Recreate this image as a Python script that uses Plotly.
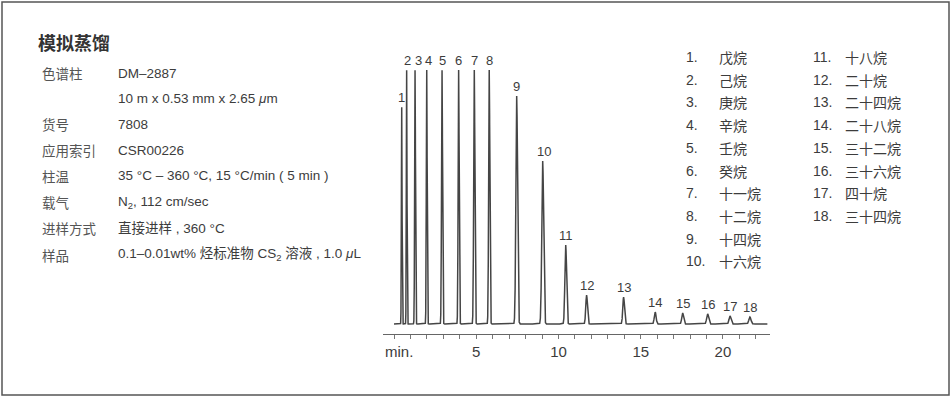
import numpy as np
import plotly.graph_objects as go

# ---------------- data ----------------
peak_ids = [str(i) for i in range(1, 19)]
peak_times = [0.47, 0.77, 1.28, 1.99, 2.92, 3.93, 4.88, 5.79, 7.46, 9.04,
              10.44, 11.71, 13.96, 15.88, 17.55, 19.07, 20.43, 21.64]
peak_heights = [217, 254, 254, 254, 254, 254, 254, 254, 228, 163,
                79, 29, 27, 12, 11, 10, 8, 7]
peak_widths = [0.02, 0.02, 0.025, 0.025, 0.03, 0.03, 0.035, 0.035, 0.05, 0.055,
               0.05, 0.05, 0.05, 0.055, 0.055, 0.06, 0.06, 0.065]
compounds = ["戊烷", "己烷", "庚烷", "辛烷", "壬烷", "癸烷", "十一烷", "十二烷", "十四烷",
             "十六烷", "十八烷", "二十烷", "二十四烷", "二十八烷", "三十二烷", "三十六烷",
             "四十烷", "三十四烷"]
run_start, run_end = 0.0, 22.7
axis_tickvals = [5, 10, 15, 20]
axis_ticktext = ["5", "10", "15", "20"]

info_labels = ["色谱柱", "", "货号", "应用索引", "柱温", "载气", "进样方式", "样品"]
info_values = ["DM–2887", "10 m x 0.53 mm x 2.65 <i>μ</i>m", "7808", "CSR00226",
               "35 °C – 360 °C, 15 °C/min ( 5 min )", "N<sub>2</sub>, 112 cm/sec",
               "直接进样 , 360 °C", "0.1–0.01wt% 烃标准物 CS<sub>2</sub> 溶液 , 1.0 <i>μ</i>L"]
title_text = "模拟蒸馏"

# ---------------- build trace ----------------
x = np.linspace(run_start, run_end, 9000)
y = np.zeros_like(x)
for t, h, w in zip(peak_times, peak_heights, peak_widths):
    y += h * np.exp(-0.5 * ((x - t) / w) ** 2)

fig = go.Figure()
fig.add_trace(go.Scatter(x=x, y=y, mode="lines",
                         line=dict(color="#454545", width=1.5),
                         hoverinfo="skip", showlegend=False))

TXT = "#3c3c3c"
LAT = "Liberation Sans, Arial, sans-serif"
MIX = "Liberation Sans, Noto Sans CJK SC, sans-serif"
CJK = "Noto Sans CJK SC, sans-serif"

ann = []
xshift = {"2": 1, "3": 3, "4": 2, "10": 1}
for pid, t, h in zip(peak_ids, peak_times, peak_heights):
    ann.append(dict(x=t, y=h, xref="x", yref="y", text=pid, showarrow=False,
                    yanchor="bottom", yshift=0, xshift=xshift.get(pid, 0),
                    font=dict(size=13, color=TXT, family=LAT)))

ann.append(dict(x=383 / 952, y=1 - 351 / 400, xref="paper", yref="paper", text="min.",
                showarrow=False, xanchor="left", yanchor="middle",
                font=dict(size=15, color=TXT, family=LAT)))

# title + info block
ann.append(dict(x=36 / 952, y=1 - 42 / 400, xref="paper", yref="paper", text="<b>" + title_text + "</b>",
                showarrow=False, xanchor="left", yanchor="middle",
                font=dict(size=18, color="#333333", family=CJK)))
row_y = [73, 98, 124, 150, 176, 202, 228, 255]
for lab, val, ry in zip(info_labels, info_values, row_y):
    if lab:
        ann.append(dict(x=40 / 952, y=1 - ry / 400, xref="paper", yref="paper", text=lab,
                        showarrow=False, xanchor="left", yanchor="middle",
                        font=dict(size=13.5, color="#555555", family=CJK)))
    ann.append(dict(x=116 / 952, y=1 - ry / 400, xref="paper", yref="paper", text=val,
                    showarrow=False, xanchor="left", yanchor="middle",
                    font=dict(size=13.5, color=TXT, family=MIX)))

# compound list
leg_y0, leg_dy = 57, 22.7
for i, (pid, name) in enumerate(zip(peak_ids, compounds)):
    col, row = divmod(i, 10)
    num_x = [684, 811][col]
    name_x = [717, 843][col]
    yy = 1 - (leg_y0 + row * leg_dy) / 400
    ann.append(dict(x=num_x / 952, y=yy, xref="paper", yref="paper", text=pid + ".",
                    showarrow=False, xanchor="left", yanchor="middle",
                    font=dict(size=14, color=TXT, family=LAT)))
    ann.append(dict(x=name_x / 952, y=yy, xref="paper", yref="paper", text=name,
                    showarrow=False, xanchor="left", yanchor="middle",
                    font=dict(size=14, color=TXT, family=CJK)))

fig.update_layout(
    width=952, height=400,
    margin=dict(l=0, r=0, t=0, b=0),
    paper_bgcolor="white", plot_bgcolor="white",
    annotations=ann,
    shapes=[dict(type="rect", xref="paper", yref="paper",
                 x0=2 / 952, x1=949 / 952, y0=1 - 395 / 400, y1=1 - 2 / 400,
                 line=dict(color="#555555", width=1.5))],
    xaxis=dict(domain=[383 / 952, 770 / 952], range=[-0.669, 22.86],
               showgrid=False, zeroline=False, showline=True, linecolor="#666666", linewidth=1.2,
               ticks="outside", ticklen=4, tickcolor="#777777", tickwidth=1,
               tickvals=axis_tickvals, ticktext=axis_ticktext,
               minor=dict(ticks="outside", ticklen=4, tickcolor="#777777", tickwidth=1,
                          tick0=0, dtick=1, showgrid=False),
               tickfont=dict(size=15, color=TXT, family=LAT)),
    yaxis=dict(domain=[1 - 334 / 400, 1 - 60 / 400], range=[-10, 264], visible=False),
)

fig.write_html("out.html", config={"displayModeBar": False},
               post_script="document.body.style.margin='0';document.body.style.overflow='hidden';")
